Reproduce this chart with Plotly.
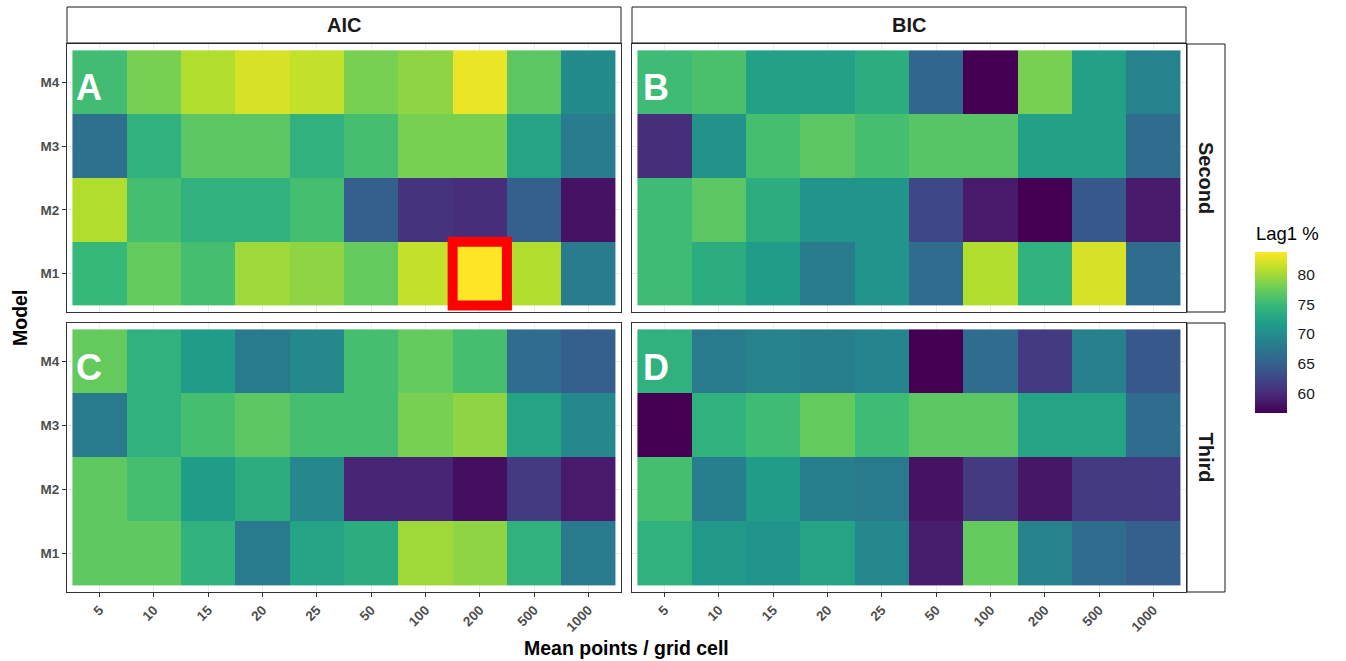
import plotly.graph_objects as go
from plotly.subplots import make_subplots

W, H = 1346, 661

x_labels = ["5", "10", "15", "20", "25", "50", "100", "200", "500", "1000"]
models = ["M1", "M2", "M3", "M4"]

# rows M1..M4 (bottom to top), columns follow x_labels
aic_second = [
    [74.8, 77.2, 75.6, 79.7, 79.1, 77.2, 81.3, 83.7, 80.5, 68.1],
    [80.5, 75.6, 74.0, 74.0, 75.6, 64.9, 60.8, 60.3, 64.9, 58.1],
    [66.8, 74.0, 76.7, 76.7, 74.0, 75.6, 78.1, 78.1, 72.4, 68.1],
    [75.4, 78.1, 80.5, 82.1, 81.3, 78.1, 79.1, 82.9, 76.7, 69.7],
]
bic_second = [
    [75.2, 73.5, 71.6, 67.8, 70.8, 66.2, 80.5, 74.0, 82.1, 66.2],
    [75.2, 76.7, 73.5, 70.8, 70.8, 62.7, 58.7, 56.8, 64.1, 58.7],
    [60.3, 70.5, 75.6, 76.7, 75.6, 76.5, 76.5, 72.1, 72.1, 66.2],
    [75.2, 75.9, 72.1, 72.1, 73.5, 65.7, 56.8, 78.1, 72.1, 68.9],
]
aic_third = [
    [77.0, 77.0, 74.0, 67.8, 72.4, 73.5, 79.8, 79.1, 74.0, 67.8],
    [77.0, 75.6, 71.6, 73.5, 69.4, 59.5, 59.5, 57.9, 61.4, 58.7],
    [67.8, 74.0, 75.6, 76.7, 75.6, 75.6, 78.1, 79.1, 72.4, 69.4],
    [77.2, 74.0, 71.6, 67.8, 69.4, 75.6, 77.2, 75.6, 66.2, 64.9],
]
bic_third = [
    [74.0, 71.1, 70.8, 72.4, 69.4, 59.0, 77.2, 68.9, 66.2, 64.9],
    [75.6, 68.4, 71.6, 68.4, 67.8, 58.1, 61.4, 58.4, 61.4, 61.4],
    [56.8, 74.0, 75.2, 77.2, 75.2, 76.7, 76.7, 72.4, 72.4, 66.2],
    [74.0, 67.8, 68.9, 68.4, 69.0, 56.8, 66.2, 61.4, 68.5, 64.1],
]

col_labels = ["AIC", "BIC"]
row_labels = ["Second", "Third"]
panel_letters = ["A", "B", "C", "D"]
cbar_ticks = [60, 65, 70, 75, 80]

panels = [aic_second, bic_second, aic_third, bic_third]
allv = [v for p in panels for r in p for v in r]
zmin, zmax = min(allv), max(allv)

FONT = "Liberation Sans, Arial, sans-serif"

def px_x(p):
    return p / W

def px_y(p):
    return 1 - p / H

# panel pixel boxes (x0, x1, y0, y1) top-left origin
col_px = [(67, 621), (632, 1186)]
row_px = [(44, 312), (323, 592)]

fig = make_subplots(rows=2, cols=2)

k = 0
for r in range(2):
    for c in range(2):
        fig.add_trace(
            go.Heatmap(
                z=panels[k], x=x_labels, y=models,
                coloraxis="coloraxis", xgap=0, ygap=0,
                hovertemplate="%{x}, %{y}: %{z}<extra></extra>",
            ),
            row=r + 1, col=c + 1,
        )
        k += 1

axis_common = dict(
    showline=True, mirror=True, linecolor="#333333", linewidth=1,
    showgrid=True, gridcolor="#ebebeb", gridwidth=1, zeroline=False,
)

for r in range(2):
    for c in range(2):
        idx = r * 2 + c + 1
        xa = "xaxis" if idx == 1 else f"xaxis{idx}"
        ya = "yaxis" if idx == 1 else f"yaxis{idx}"
        x0, x1 = col_px[c]
        y0, y1 = row_px[r]
        fig.layout[xa].update(
            domain=[px_x(x0), px_x(x1)],
            type="category", categoryorder="array", categoryarray=x_labels,
            range=[-0.6, 9.6],
            showticklabels=(r == 1),
            ticks="outside" if r == 1 else "",
            ticklen=4, tickcolor="#333333",
            tickangle=-45,
            tickfont=dict(family=FONT, size=13.5, color="#4d4d4d", weight="bold"),
            **axis_common,
        )
        fig.layout[ya].update(
            domain=[px_y(y1), px_y(y0)],
            type="category", categoryorder="array", categoryarray=models,
            range=[-0.6, 3.6],
            showticklabels=(c == 0),
            ticks="outside" if c == 0 else "",
            ticklen=4, tickcolor="#333333",
            tickfont=dict(family=FONT, size=13.5, color="#4d4d4d", weight="bold"),
            **axis_common,
        )

shapes = []
annotations = []

# top strips
for c, lab in enumerate(col_labels):
    x0, x1 = col_px[c]
    shapes.append(dict(type="rect", xref="paper", yref="paper",
                       x0=px_x(x0), x1=px_x(x1), y0=px_y(43), y1=px_y(7),
                       line=dict(color="#1a1a1a", width=1), fillcolor="white"))
    annotations.append(dict(text=f"<b>{lab}</b>", xref="paper", yref="paper",
                            x=px_x((x0 + x1) / 2), y=px_y(25), showarrow=False,
                            xanchor="center", yanchor="middle",
                            font=dict(family=FONT, size=20, color="#1a1a1a")))
# right strips
for r, lab in enumerate(row_labels):
    y0, y1 = row_px[r]
    shapes.append(dict(type="rect", xref="paper", yref="paper",
                       x0=px_x(1187), x1=px_x(1225), y0=px_y(y1), y1=px_y(y0),
                       line=dict(color="#1a1a1a", width=1), fillcolor="white"))
    annotations.append(dict(text=f"<b>{lab}</b>", xref="paper", yref="paper",
                            x=px_x(1206), y=px_y((y0 + y1) / 2), showarrow=False,
                            textangle=90, xanchor="center", yanchor="middle",
                            font=dict(family=FONT, size=20, color="#1a1a1a")))

# panel letters
letter_pos = [(89, 88), (656, 88), (89, 367), (656, 367)]
for lab, (lx, ly) in zip(panel_letters, letter_pos):
    annotations.append(dict(text=f"<b>{lab}</b>", xref="paper", yref="paper",
                            x=px_x(lx), y=px_y(ly), showarrow=False,
                            xanchor="center", yanchor="middle",
                            font=dict(family=FONT, size=36, color="white")))

# red highlight box around AIC/Second, M1, 200
shapes.append(dict(type="rect", xref="x", yref="y",
                   x0=6.5, x1=7.5, y0=-0.5, y1=0.5,
                   line=dict(color="#ff0000", width=10), fillcolor="rgba(0,0,0,0)"))

# axis titles
annotations.append(dict(text="<b>Mean points / grid cell</b>", xref="paper", yref="paper",
                        x=px_x(626), y=px_y(648), showarrow=False,
                        xanchor="center", yanchor="middle",
                        font=dict(family=FONT, size=19.5, color="black")))
annotations.append(dict(text="<b>Model</b>", xref="paper", yref="paper",
                        x=px_x(20), y=px_y(318), showarrow=False, textangle=-90,
                        xanchor="center", yanchor="middle",
                        font=dict(family=FONT, size=19.5, color="black")))
# legend title
annotations.append(dict(text="Lag1 %", xref="paper", yref="paper",
                        x=px_x(1254), y=px_y(233), showarrow=False,
                        xanchor="left", yanchor="middle",
                        font=dict(family=FONT, size=18.5, color="black")))

fig.update_layout(
    width=W, height=H,
    margin=dict(l=0, r=0, t=0, b=0),
    paper_bgcolor="white", plot_bgcolor="white",
    font=dict(family=FONT),
    shapes=shapes,
    annotations=annotations,
    coloraxis=dict(
        colorscale="Viridis", cmin=zmin, cmax=zmax,
        colorbar=dict(
            thickness=32, len=161, lenmode="pixels",
            x=px_x(1255), xanchor="left", y=px_y(252), yanchor="top",
            xpad=0, ypad=0,
            tickvals=cbar_ticks, ticks="outside", ticklen=8,
            tickcolor="rgba(0,0,0,0)",
            outlinewidth=0,
            tickfont=dict(family=FONT, size=15.5, color="#1a1a1a"),
        ),
    ),
)

fig.write_html("out.html")
